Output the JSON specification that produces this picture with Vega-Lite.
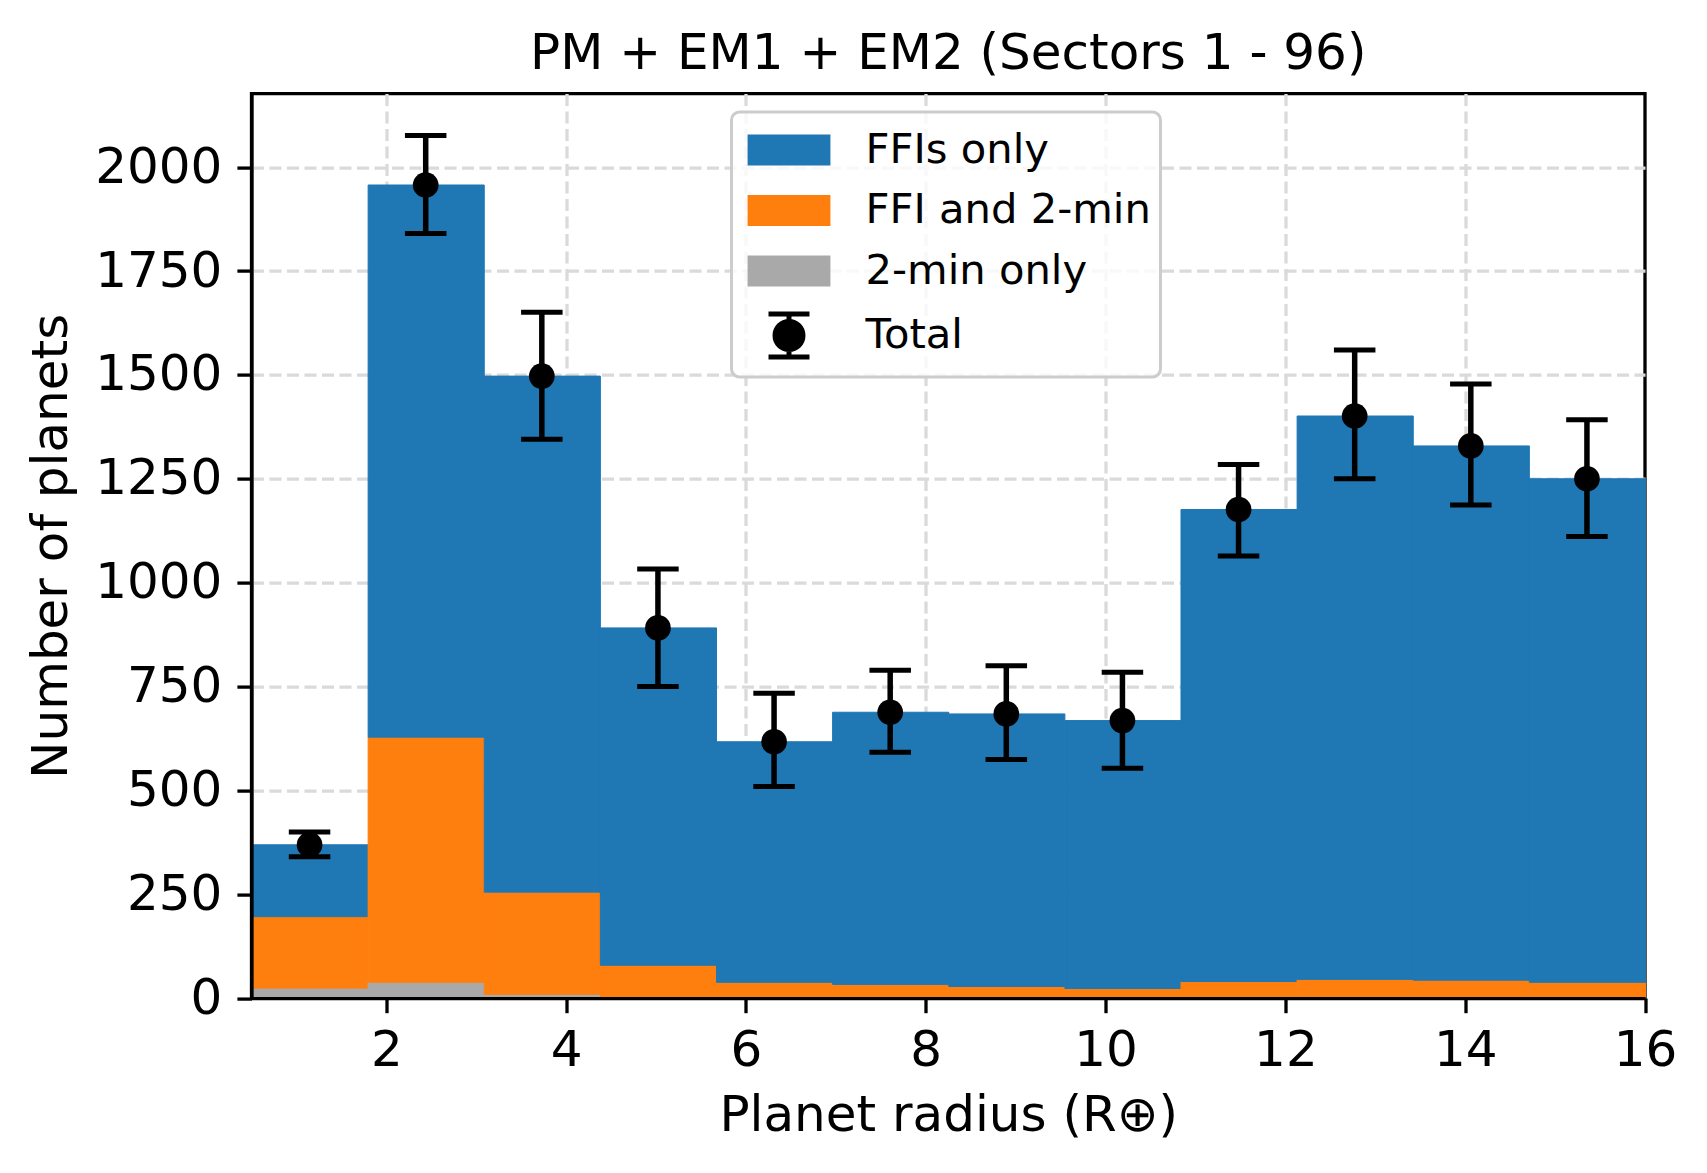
{
  "$schema": "https://vega.github.io/schema/vega-lite/v6.json",
  "width": 1393.5,
  "height": 904.5,
  "autosize": {"type": "none"},
  "padding": {"left": 251.5, "top": 93.6, "right": 62, "bottom": 175},
  "background": "white",
  "title": {
    "text": "PM + EM1 + EM2 (Sectors 1 - 96)",
    "font": "DejaVu Sans",
    "fontSize": 50,
    "fontWeight": "normal",
    "color": "black",
    "anchor": "middle",
    "offset": 15
  },
  "config": {
    "view": {"stroke": "black", "strokeWidth": 3.3},
    "font": "DejaVu Sans"
  },
  "datasets": {
    "bars": [
      {"lo": 0.5, "hi": 1.7917, "cat": "2-min only", "ord": 0, "n": 24},
      {"lo": 0.5, "hi": 1.7917, "cat": "FFI and 2-min", "ord": 1, "n": 172},
      {"lo": 0.5, "hi": 1.7917, "cat": "FFIs only", "ord": 2, "n": 173},
      {"lo": 1.7917, "hi": 3.0833, "cat": "2-min only", "ord": 0, "n": 38},
      {"lo": 1.7917, "hi": 3.0833, "cat": "FFI and 2-min", "ord": 1, "n": 590},
      {"lo": 1.7917, "hi": 3.0833, "cat": "FFIs only", "ord": 2, "n": 1329},
      {"lo": 3.0833, "hi": 4.375, "cat": "2-min only", "ord": 0, "n": 9},
      {"lo": 3.0833, "hi": 4.375, "cat": "FFI and 2-min", "ord": 1, "n": 246},
      {"lo": 3.0833, "hi": 4.375, "cat": "FFIs only", "ord": 2, "n": 1242},
      {"lo": 4.375, "hi": 5.6667, "cat": "FFI and 2-min", "ord": 1, "n": 79},
      {"lo": 4.375, "hi": 5.6667, "cat": "FFIs only", "ord": 2, "n": 812},
      {"lo": 5.6667, "hi": 6.9583, "cat": "FFI and 2-min", "ord": 1, "n": 38},
      {"lo": 5.6667, "hi": 6.9583, "cat": "FFIs only", "ord": 2, "n": 579},
      {"lo": 6.9583, "hi": 8.25, "cat": "FFI and 2-min", "ord": 1, "n": 33},
      {"lo": 6.9583, "hi": 8.25, "cat": "FFIs only", "ord": 2, "n": 655},
      {"lo": 8.25, "hi": 9.5417, "cat": "FFI and 2-min", "ord": 1, "n": 28},
      {"lo": 8.25, "hi": 9.5417, "cat": "FFIs only", "ord": 2, "n": 656},
      {"lo": 9.5417, "hi": 10.8333, "cat": "FFI and 2-min", "ord": 1, "n": 23},
      {"lo": 9.5417, "hi": 10.8333, "cat": "FFIs only", "ord": 2, "n": 645},
      {"lo": 10.8333, "hi": 12.125, "cat": "FFI and 2-min", "ord": 1, "n": 40},
      {"lo": 10.8333, "hi": 12.125, "cat": "FFIs only", "ord": 2, "n": 1136},
      {"lo": 12.125, "hi": 13.4167, "cat": "FFI and 2-min", "ord": 1, "n": 45},
      {"lo": 12.125, "hi": 13.4167, "cat": "FFIs only", "ord": 2, "n": 1356},
      {"lo": 13.4167, "hi": 14.7083, "cat": "FFI and 2-min", "ord": 1, "n": 43},
      {"lo": 13.4167, "hi": 14.7083, "cat": "FFIs only", "ord": 2, "n": 1286},
      {"lo": 14.7083, "hi": 16, "cat": "FFI and 2-min", "ord": 1, "n": 38},
      {"lo": 14.7083, "hi": 16, "cat": "FFIs only", "ord": 2, "n": 1212}
    ],
    "totals": [
      {"r": 1.1458, "total": 369, "elo": 340, "ehi": 400},
      {"r": 2.4375, "total": 1957, "elo": 1840, "ehi": 2076},
      {"r": 3.7292, "total": 1497, "elo": 1345, "ehi": 1651},
      {"r": 5.0208, "total": 891, "elo": 750, "ehi": 1033},
      {"r": 6.3125, "total": 617, "elo": 509, "ehi": 734},
      {"r": 7.6042, "total": 688, "elo": 592, "ehi": 789},
      {"r": 8.8958, "total": 684, "elo": 574, "ehi": 800},
      {"r": 10.1875, "total": 668, "elo": 553, "ehi": 784},
      {"r": 11.4792, "total": 1176, "elo": 1064, "ehi": 1284},
      {"r": 12.7708, "total": 1401, "elo": 1250, "ehi": 1560},
      {"r": 14.0625, "total": 1329, "elo": 1187, "ehi": 1478},
      {"r": 15.3542, "total": 1250, "elo": 1111, "ehi": 1392}
    ]
  },
  "resolve": {"axis": {"x": "independent", "y": "independent"}},
  "layer": [
    {
      "data": {"name": "bars"},
      "mark": {"type": "bar", "binSpacing": 0, "strokeWidth": 1},
      "encoding": {
        "x": {
          "field": "lo", "type": "quantitative", "bin": "binned",
          "scale": {"domain": [0.5, 16], "nice": false, "zero": false},
          "axis": {
            "orient": "bottom",
            "values": [2, 4, 6, 8, 10, 12, 14],
            "grid": true, "gridColor": "#dadada", "gridWidth": 3.3, "gridDash": [12, 5.5],
            "domain": false, "ticks": false, "labels": false, "title": null, "zindex": 0
          }
        },
        "x2": {"field": "hi"},
        "y": {
          "field": "n", "type": "quantitative", "stack": "zero",
          "scale": {"domain": [0, 2177], "nice": false, "zero": true},
          "axis": {
            "orient": "left",
            "values": [250, 500, 750, 1000, 1250, 1500, 1750, 2000],
            "grid": true, "gridColor": "#dadada", "gridWidth": 3.3, "gridDash": [12, 5.5],
            "domain": false, "ticks": false, "labels": false, "title": null, "zindex": 0
          }
        },
        "order": {"field": "ord", "type": "quantitative", "sort": "ascending"},
        "stroke": {
          "field": "cat", "type": "nominal",
          "scale": {
            "domain": ["FFIs only", "FFI and 2-min", "2-min only", "Total"],
            "range": ["#1f77b4", "#ff7f0e", "#a9a9a9", "#000000"]
          },
          "legend": null
        },
        "color": {
          "field": "cat", "type": "nominal",
          "scale": {
            "domain": ["FFIs only", "FFI and 2-min", "2-min only", "Total"],
            "range": ["#1f77b4", "#ff7f0e", "#a9a9a9", "#000000"]
          },
          "legend": {
            "orient": "none",
            "legendX": 480,
            "legendY": 18.4,
            "title": null,
            "labelFont": "DejaVu Sans",
            "labelFontSize": 41.7,
            "labelColor": "black",
            "labelOffset": 48,
            "symbolOffset": 19.5,
            "symbolSize": 2704,
            "rowPadding": 8.5,
            "padding": 9.5,
            "fillColor": "rgba(255,255,255,0.8)",
            "strokeColor": "#cccccc",
            "cornerRadius": 8,
            "labelLimit": 600,
            "encode": {
              "legend": {"update": {"strokeWidth": {"value": 3}}},
              "symbols": {
                "update": {
                  "shape": {"signal": "datum.value === 'Total' ? 'M-0.788,-0.827H0.788M0,-0.827V0.827M-0.788,0.827H0.788M-0.538,0A0.538,0.538,0,1,0,0.538,0A0.538,0.538,0,1,0,-0.538,0Z' : 'M-1.497,-0.503H1.497V0.503H-1.497Z'"},
                  "stroke": {"signal": "datum.value === 'Total' ? 'black' : 'transparent'"},
                  "strokeWidth": {"value": 5},
                  "size": {"value": 2704},
                  "opacity": {"value": 1}
                }
              }
            }
          }
        }
      }
    },
    {
      "data": {"name": "totals"},
      "mark": {"type": "rule", "color": "black", "strokeWidth": 5.5},
      "encoding": {
        "x": {"field": "r", "type": "quantitative", "scale": {"domain": [0.5, 16], "nice": false, "zero": false}, "axis": null},
        "y": {"field": "elo", "type": "quantitative", "scale": {"domain": [0, 2177], "nice": false}, "axis": null},
        "y2": {"field": "ehi"}
      }
    },
    {
      "data": {"name": "totals"},
      "mark": {"type": "tick", "orient": "horizontal", "color": "black", "size": 41.5, "thickness": 5, "opacity": 1},
      "encoding": {
        "x": {"field": "r", "type": "quantitative", "axis": null},
        "y": {"field": "elo", "type": "quantitative", "axis": null}
      }
    },
    {
      "data": {"name": "totals"},
      "mark": {"type": "tick", "orient": "horizontal", "color": "black", "size": 41.5, "thickness": 5, "opacity": 1},
      "encoding": {
        "x": {"field": "r", "type": "quantitative", "axis": null},
        "y": {"field": "ehi", "type": "quantitative", "axis": null}
      }
    },
    {
      "data": {"name": "totals"},
      "mark": {"type": "point", "filled": true, "color": "black", "size": 660, "opacity": 1, "strokeWidth": 0},
      "encoding": {
        "x": {
          "field": "r", "type": "quantitative",
          "axis": {
            "orient": "bottom",
            "values": [2, 4, 6, 8, 10, 12, 14, 16],
            "grid": false,
            "domain": true, "domainColor": "black", "domainWidth": 3.3,
            "ticks": true, "tickColor": "black", "tickWidth": 3.3, "tickSize": 14.6,
            "labelFont": "DejaVu Sans", "labelFontSize": 50, "labelColor": "black", "labelPadding": 13,
            "labelFlush": false, "labelOverlap": false, "format": "d",
            "title": "Planet radius (R⊕)",
            "titleFont": "DejaVu Sans", "titleFontSize": 50, "titleFontWeight": "normal", "titleColor": "black", "titlePadding": 14.5,
            "zindex": 1
          }
        },
        "y": {
          "field": "total", "type": "quantitative",
          "axis": {
            "orient": "left",
            "values": [0, 250, 500, 750, 1000, 1250, 1500, 1750, 2000],
            "grid": false,
            "domain": true, "domainColor": "black", "domainWidth": 3.3,
            "ticks": true, "tickColor": "black", "tickWidth": 3.3, "tickSize": 14.6,
            "labelFont": "DejaVu Sans", "labelFontSize": 50, "labelColor": "black", "labelPadding": 15,
            "labelFlush": false, "labelOverlap": false, "format": "d",
            "title": "Number of planets",
            "titleFont": "DejaVu Sans", "titleFontSize": 50, "titleFontWeight": "normal", "titleColor": "black", "titlePadding": 18,
            "zindex": 1
          }
        }
      }
    }
  ]
}
